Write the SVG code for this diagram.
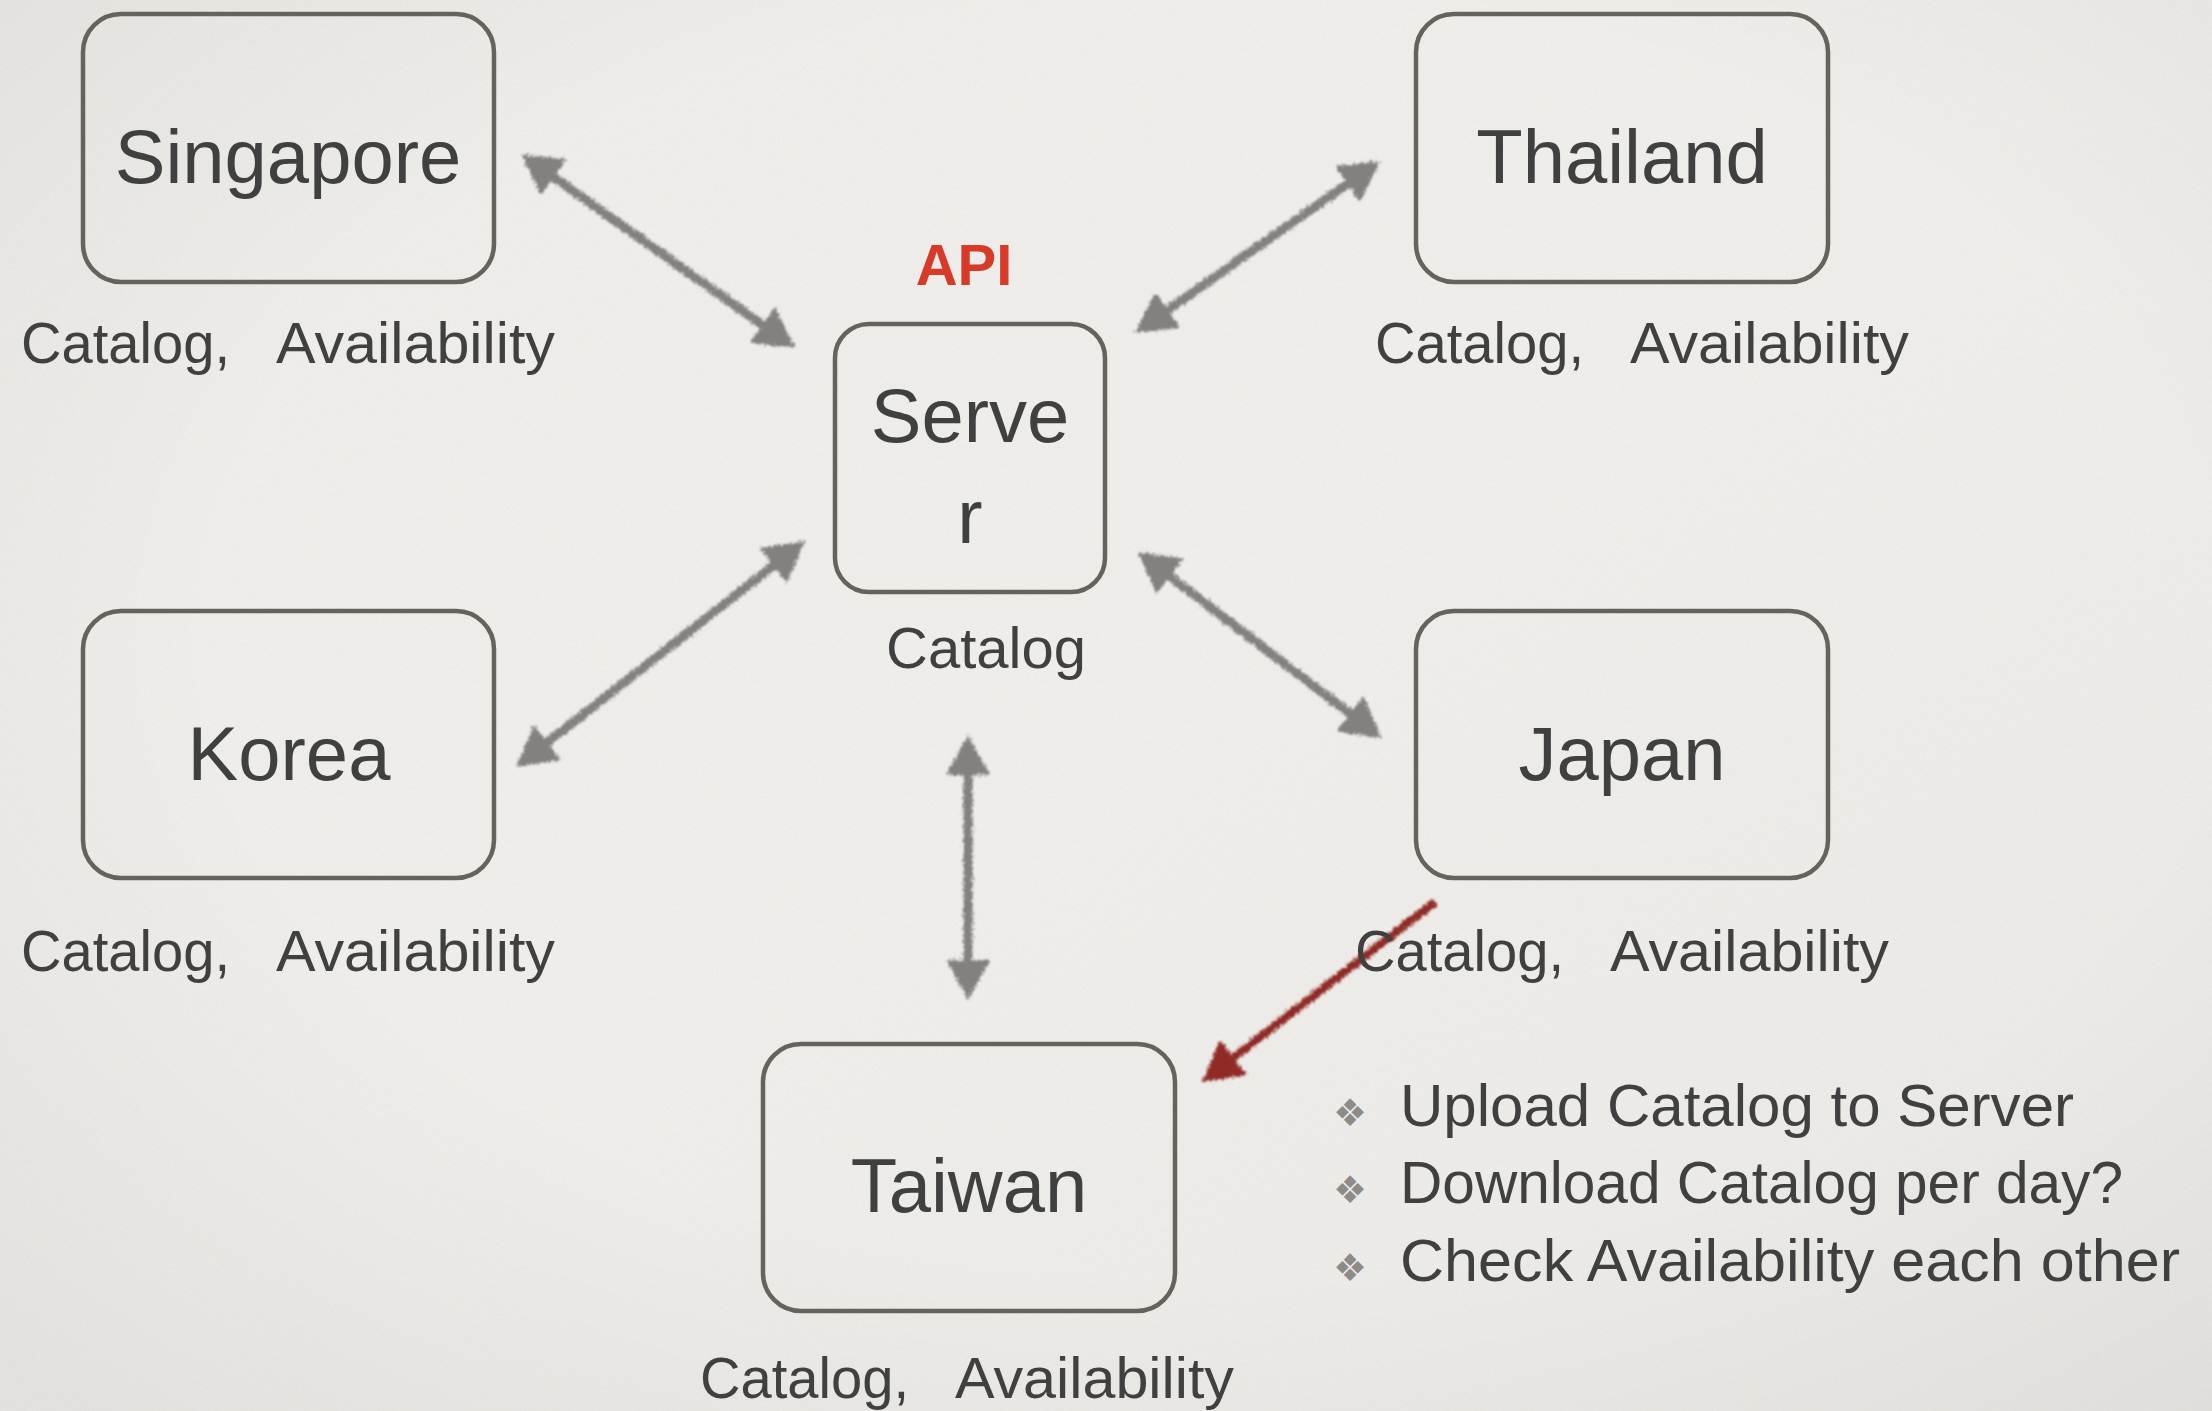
<svg xmlns="http://www.w3.org/2000/svg" width="2212" height="1411" viewBox="0 0 2212 1411">
  <defs>
    <style>
      .box { fill: none; stroke: #66635f; stroke-width: 4.5; }
      .label { font-family: "Liberation Sans", Arial, sans-serif; font-size: 76px; fill: #404040; text-anchor: middle; }
      .caption { font-family: "Liberation Sans", Arial, sans-serif; font-size: 58px; fill: #404040; }
      .api { font-family: "Liberation Sans", Arial, sans-serif; font-size: 58px; font-weight: bold; fill: #d83a28; }
      .bullet-text { font-family: "Liberation Sans", Arial, sans-serif; font-size: 59px; fill: #404040; }
      .bullet { font-family: "DejaVu Sans", sans-serif; font-size: 38px; fill: #8d8b88; text-anchor: middle; }
      .link { fill: none; stroke: #838180; stroke-width: 9; marker-start: url(#head); marker-end: url(#head); }
      .link-red { fill: none; stroke: #8f2b25; stroke-width: 8; marker-end: url(#head-red); }
    </style>

    <!-- paper background -->
    <linearGradient id="paper" x1="0" y1="0" x2="1" y2="1">
      <stop offset="0" stop-color="#efede9"/>
      <stop offset="0.5" stop-color="#f0eeea"/>
      <stop offset="1" stop-color="#ebe9e5"/>
    </linearGradient>
    <radialGradient id="vignette" cx="0.55" cy="0.45" r="0.75">
      <stop offset="0.6" stop-color="#000" stop-opacity="0"/>
      <stop offset="1" stop-color="#000" stop-opacity="0.05"/>
    </radialGradient>
    <filter id="grain" filterUnits="userSpaceOnUse" x="0" y="0" width="2212" height="1411">
      <feTurbulence type="fractalNoise" baseFrequency="0.9 0.3" numOctaves="2" seed="7"/>
      <feColorMatrix type="matrix" values="0 0 0 0 0.45  0 0 0 0 0.43  0 0 0 0 0.40  0.14 0 0 0 -0.05"/>
    </filter>

    <!-- hand-drawn pencil look for the connectors -->
    <filter id="pencil" filterUnits="userSpaceOnUse" x="0" y="0" width="2212" height="1411">
      <feTurbulence type="fractalNoise" baseFrequency="0.45" numOctaves="2" seed="3" result="noise"/>
      <feDisplacementMap in="SourceGraphic" in2="noise" scale="8" xChannelSelector="R" yChannelSelector="G" result="rough"/>
      <feGaussianBlur in="rough" stdDeviation="0.8"/>
    </filter>

    <marker id="head" markerUnits="userSpaceOnUse" markerWidth="50" markerHeight="50" refX="12" refY="22" orient="auto-start-reverse">
      <path d="M0,0 L40,22 L0,44 Z" fill="#838180"/>
    </marker>
    <marker id="head-red" markerUnits="userSpaceOnUse" markerWidth="50" markerHeight="50" refX="12" refY="22" orient="auto">
      <path d="M0,0 L40,22 L0,44 Z" fill="#8f2b25"/>
    </marker>
  </defs>

  <rect x="0" y="0" width="2212" height="1411" fill="url(#paper)"/>
  <rect x="0" y="0" width="2212" height="1411" filter="url(#grain)"/>
  <rect x="0" y="0" width="2212" height="1411" fill="url(#vignette)"/>

  <!-- connectors -->
  <g id="connectors" filter="url(#pencil)">
    <path class="link" d="M543.9,170.2 L772.1,331.8"/>
    <path class="link" d="M1357.1,177.1 L1157.9,316.9"/>
    <path class="link" d="M782.9,558.2 L538.1,749.8"/>
    <path class="link" d="M1160.3,569.0 L1359.7,721.0"/>
    <path class="link" d="M968,763 L968,972"/>
    <path class="link-red" d="M1435,902 L1224.2,1064.9"/>
  </g>

  <g id="singapore">
    <rect class="box" x="83" y="14" width="411" height="268" rx="38"/>
    <text class="label" x="288" y="183">Singapore</text>
    <text class="caption" y="363"><tspan x="21" textLength="209" lengthAdjust="spacingAndGlyphs">Catalog,</tspan> <tspan x="276" textLength="279" lengthAdjust="spacingAndGlyphs">Availability</tspan></text>
  </g>

  <g id="thailand">
    <rect class="box" x="1416" y="14" width="412" height="268" rx="38"/>
    <text class="label" x="1622" y="183">Thailand</text>
    <text class="caption" y="363"><tspan x="1375" textLength="209" lengthAdjust="spacingAndGlyphs">Catalog,</tspan> <tspan x="1630" textLength="279" lengthAdjust="spacingAndGlyphs">Availability</tspan></text>
  </g>

  <g id="server">
    <text class="api" x="964" y="285" text-anchor="middle">API</text>
    <rect class="box" x="835" y="324" width="270" height="268" rx="34"/>
    <text class="label" x="970" y="442">Serve</text>
    <text class="label" x="970" y="543">r</text>
    <text class="caption" x="886" y="668">Catalog</text>
  </g>

  <g id="korea">
    <rect class="box" x="83" y="611" width="411" height="267" rx="38"/>
    <text class="label" x="289" y="780">Korea</text>
    <text class="caption" y="971"><tspan x="21" textLength="209" lengthAdjust="spacingAndGlyphs">Catalog,</tspan> <tspan x="276" textLength="279" lengthAdjust="spacingAndGlyphs">Availability</tspan></text>
  </g>

  <g id="japan">
    <rect class="box" x="1416" y="611" width="412" height="267" rx="38"/>
    <text class="label" x="1622" y="780">Japan</text>
    <text class="caption" y="971"><tspan x="1355" textLength="209" lengthAdjust="spacingAndGlyphs">Catalog,</tspan> <tspan x="1610" textLength="279" lengthAdjust="spacingAndGlyphs">Availability</tspan></text>
  </g>

  <g id="taiwan">
    <rect class="box" x="763" y="1044" width="412" height="267" rx="38"/>
    <text class="label" x="969" y="1212">Taiwan</text>
    <text class="caption" y="1398"><tspan x="700" textLength="209" lengthAdjust="spacingAndGlyphs">Catalog,</tspan> <tspan x="955" textLength="279" lengthAdjust="spacingAndGlyphs">Availability</tspan></text>
  </g>

  <g id="notes">
    <text class="bullet" x="1350" y="1126">❖</text>
    <text class="bullet-text" x="1400" y="1126" textLength="674" lengthAdjust="spacingAndGlyphs">Upload Catalog to Server</text>
    <text class="bullet" x="1350" y="1203">❖</text>
    <text class="bullet-text" x="1400" y="1203" textLength="723" lengthAdjust="spacingAndGlyphs">Download Catalog per day?</text>
    <text class="bullet" x="1350" y="1281">❖</text>
    <text class="bullet-text" x="1400" y="1281" textLength="780" lengthAdjust="spacingAndGlyphs">Check Availability each other</text>
  </g>
</svg>
